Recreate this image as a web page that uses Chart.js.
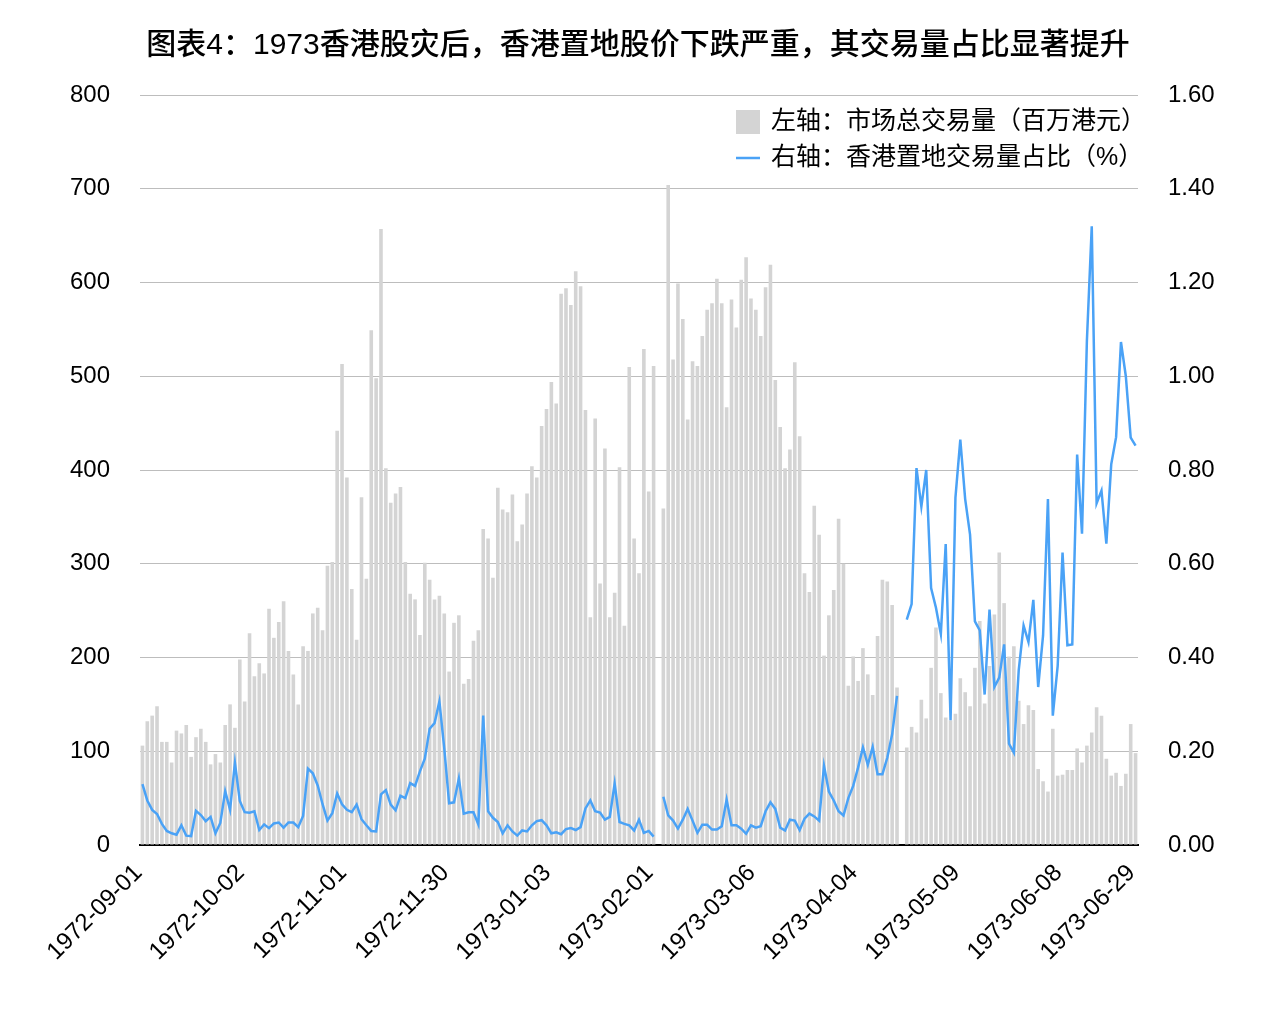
<!DOCTYPE html>
<html>
<head>
<meta charset="utf-8">
<title>1973香港股灾后香港置地交易量占比</title>
<script src="https://cdn.jsdelivr.net/npm/chart.js@4.4.1/dist/chart.umd.min.js"></script>
<style>
  html, body { margin: 0; padding: 0; background: #fff; }
  #wrap { width: 1276px; height: 1018px; }
</style>
</head>
<body>
<div id="wrap"><canvas id="chart" width="1276" height="1018"></canvas></div>
<script>
// Chart data

const titleText = '图表4：1973香港股灾后，香港置地股价下跌严重，其交易量占比显著提升';
const seriesNames = ['左轴：市场总交易量（百万港元）', '右轴：香港置地交易量占比（%）'];

// trading days: weekdays between these dates, minus market holidays
const firstDay = '1972-09-01';
const lastDay = '1973-06-29';
const holidays = ['1972-10-16', '1972-12-25', '1972-12-26', '1973-01-01', '1973-02-05', '1973-02-06',
    '1973-04-05', '1973-04-20', '1973-04-23', '1973-05-01', '1973-06-05'];

// dates that get a label on the x axis
const tickDates = ['1972-09-01', '1972-10-02', '1972-11-01', '1972-11-30', '1973-01-03', '1973-02-01',
    '1973-03-06', '1973-04-04', '1973-05-09', '1973-06-08', '1973-06-29'];

// market turnover, HK$ million (left axis)
const turnover = [
    106, 132, 138, 148, 110, 110, 88, 122, 119, 128, 94, 115, 124, 110, 86, 97, 88, 128, 150, 125,
    198, 153, 226, 180, 194, 183, 252, 221, 238, 260, 207, 182, 150, 212, 207, 247, 253, 229, 298, 302,
    442, 513, 392, 273, 219, 371, 284, 549, 498, 657, 402, 365, 375, 382, 302, 268, 262, 224, 301, 283,
    262, 266, 247, 185, 237, 245, 172, 177, 218, 229, 337, 327, 285, 381, 358, 355, 374, 324, 342, 375,
    404, 392, 447, 465, 494, 471, 588, 594, 576, 612, 596, 464, 243, 455, 279, 423, 243, 269, 403, 234,
    510, 327, 290, 529, 377, 511, null, 359, 704, 518, 599, 561, 454, 516, 511, 543, 571, 578, 604, 578,
    467, 582, 552, 603, 627, 583, 571, 543, 595, 619, 496, 446, 402, 422, 515, 436, 290, 270, 362, 331,
    202, 245, 272, 348, 300, 170, 201, 175, 210, 182, 160, 223, 283, 281, 256, 168, null, 104, 126, 120,
    155, 135, 189, 232, 162, 136, 133, 140, 178, 163, 148, 189, 239, 151, 191, 246, 312, 258, 201, 212,
    154, 129, 149, 144, 81, 68, 57, 124, 74, 75, 80, 80, 103, 88, 106, 120, 147, 138, 92, 74,
    77, 63, 76, 129, 98
];

// Hongkong Land share of turnover, % (right axis)
const landShare = [
    0.13, 0.095, 0.075, 0.066, 0.045, 0.03, 0.025, 0.022, 0.042, 0.02, 0.019, 0.073, 0.064, 0.051, 0.06, 0.025, 0.047, 0.115, 0.075, 0.175,
    0.094, 0.07, 0.069, 0.072, 0.032, 0.044, 0.036, 0.046, 0.048, 0.037, 0.048, 0.048, 0.038, 0.062, 0.163, 0.153, 0.127, 0.087, 0.052, 0.068,
    0.11, 0.087, 0.075, 0.07, 0.086, 0.055, 0.042, 0.03, 0.029, 0.108, 0.117, 0.086, 0.074, 0.105, 0.1, 0.132, 0.126, 0.157, 0.184, 0.248,
    0.26, 0.306, 0.206, 0.089, 0.091, 0.142, 0.067, 0.07, 0.07, 0.044, 0.276, 0.072, 0.058, 0.049, 0.025, 0.042, 0.029, 0.02, 0.031, 0.029,
    0.042, 0.051, 0.053, 0.042, 0.025, 0.027, 0.023, 0.034, 0.036, 0.032, 0.038, 0.078, 0.095, 0.072, 0.069, 0.054, 0.06, 0.131, 0.049, 0.045,
    0.042, 0.031, 0.054, 0.026, 0.03, 0.018, null, 0.103, 0.063, 0.052, 0.035, 0.054, 0.077, 0.052, 0.026, 0.043, 0.043, 0.033, 0.033, 0.04,
    0.097, 0.042, 0.042, 0.035, 0.024, 0.042, 0.037, 0.04, 0.072, 0.091, 0.077, 0.037, 0.031, 0.054, 0.052, 0.032, 0.056, 0.067, 0.061, 0.052,
    0.169, 0.114, 0.095, 0.072, 0.063, 0.1, 0.126, 0.165, 0.208, 0.171, 0.209, 0.151, 0.151, 0.186, 0.236, 0.318, null, 0.481, 0.514, 0.804,
    0.722, 0.8, 0.548, 0.506, 0.45, 0.642, 0.266, 0.741, 0.865, 0.738, 0.662, 0.477, 0.458, 0.321, 0.502, 0.337, 0.357, 0.428, 0.216, 0.197,
    0.373, 0.468, 0.433, 0.523, 0.337, 0.447, 0.738, 0.276, 0.382, 0.624, 0.426, 0.428, 0.833, 0.664, 1.075, 1.32, 0.729, 0.756, 0.643, 0.812,
    0.87, 1.073, 1.0, 0.869, 0.852
];

const barColor = '#d4d4d4';
const lineColor = '#4aa2f6';
const fontFamily = '"Liberation Sans", "Noto Sans CJK SC", Arial, sans-serif';

document.addEventListener('DOMContentLoaded', function() {
    initChart();
});

function tradingDays(from, to, skip) {
    const out = [];
    const d = new Date(from + 'T00:00:00Z');
    const end = new Date(to + 'T00:00:00Z');
    while (d <= end) {
        const wd = d.getUTCDay();
        const s = d.toISOString().slice(0, 10);
        if (wd !== 0 && wd !== 6 && skip.indexOf(s) < 0) out.push(s);
        d.setUTCDate(d.getUTCDate() + 1);
    }
    return out;
}

// legend drawn inside the plot, top right
const insideLegend = {
    id: 'insideLegend',
    afterDraw(chart) {
        const ctx = chart.ctx;
        const area = chart.chartArea;
        ctx.save();
        ctx.font = '25px ' + fontFamily;
        ctx.textBaseline = 'middle';
        const textW = Math.max.apply(null, seriesNames.map(s => ctx.measureText(s).width));
        const textX = area.right + 8 - textW;
        const markX = 736;
        const row1 = area.top + 27;
        const row2 = area.top + 63;

        ctx.fillStyle = barColor;
        ctx.fillRect(markX, row1 - 12, 24, 24);
        ctx.strokeStyle = lineColor;
        ctx.lineWidth = 2.5;
        ctx.beginPath();
        ctx.moveTo(markX, row2);
        ctx.lineTo(markX + 24, row2);
        ctx.stroke();

        ctx.fillStyle = '#000';
        ctx.fillText(seriesNames[0], textX, row1);
        ctx.fillText(seriesNames[1], textX, row2);
        ctx.restore();
    }
};

function initChart() {
    const canvas = document.getElementById('chart');
    if (!canvas) return;

    const dates = tradingDays(firstDay, lastDay, holidays);

    Chart.defaults.font.family = fontFamily;
    Chart.defaults.color = '#000';

    new Chart(canvas.getContext('2d'), {
        type: 'bar',
        data: {
            labels: dates,
            datasets: [{
                type: 'line',
                label: seriesNames[1],
                data: landShare,
                yAxisID: 'y1',
                borderColor: lineColor,
                borderWidth: 2.5,
                pointRadius: 0,
                tension: 0,
                spanGaps: false,
                order: 0
            }, {
                type: 'bar',
                label: seriesNames[0],
                data: turnover,
                yAxisID: 'y',
                backgroundColor: barColor,
                barPercentage: 0.74,
                categoryPercentage: 1,
                order: 1
            }]
        },
        options: {
            responsive: false,
            animation: false,
            layout: { padding: 0 },
            plugins: {
                legend: { display: false },
                tooltip: { enabled: false },
                title: {
                    display: true,
                    text: titleText,
                    color: '#000',
                    font: { size: 30, weight: '500' },
                    padding: { top: 28, bottom: 31 }
                }
            },
            scales: {
                x: {
                    grid: { display: false },
                    border: { display: true, color: '#000', width: 2 },
                    ticks: {
                        autoSkip: false,
                        maxRotation: 45,
                        minRotation: 45,
                        padding: 6,
                        labelOffset: -4,
                        font: { size: 24 },
                        callback: function(value, index) {
                            const d = dates[index];
                            return tickDates.indexOf(d) >= 0 ? d : null;
                        }
                    },
                    afterFit: function(scale) { scale.height = 173; }
                },
                y: {
                    position: 'left',
                    min: 0,
                    max: 800,
                    grid: { color: '#bdbdbd', lineWidth: 1, drawTicks: false },
                    border: { display: false },
                    ticks: { stepSize: 100, padding: 30, font: { size: 24 } },
                    afterFit: function(scale) { scale.width = 140; }
                },
                y1: {
                    position: 'right',
                    min: 0,
                    max: 1.6,
                    grid: { display: false, drawTicks: false },
                    border: { display: false },
                    ticks: {
                        stepSize: 0.2,
                        padding: 30,
                        font: { size: 24 },
                        callback: function(v) { return v.toFixed(2); }
                    },
                    afterFit: function(scale) { scale.width = 138; }
                }
            }
        },
        plugins: [insideLegend]
    });
}
</script>
</body>
</html>
